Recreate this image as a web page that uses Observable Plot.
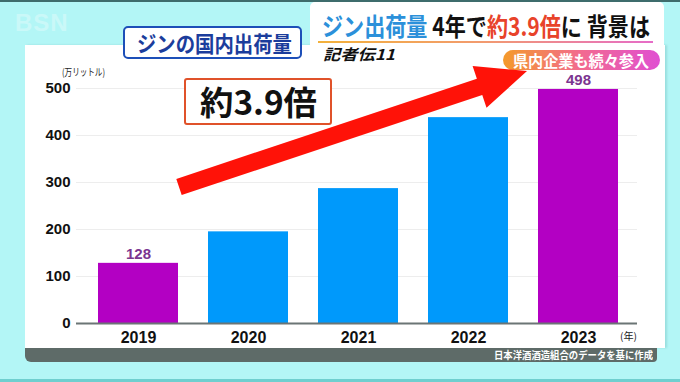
<!DOCTYPE html>
<html>
<head>
<meta charset="utf-8">
<script src="https://cdn.jsdelivr.net/npm/d3@7"></script>
<script src="https://cdn.jsdelivr.net/npm/@observablehq/plot@0.6"></script>
<style>
  html, body { margin: 0; padding: 0; }
  #stage { position: relative; width: 680px; height: 382px; overflow: hidden; background: #b3f6f6;
           font-family: "Noto Sans CJK JP", "Noto Sans", sans-serif; }
  .abs { position: absolute; }
  .fit { display: inline-block; white-space: nowrap; transform-origin: left center; }
  #panel { left: 25px; top: 45px; width: 640px; height: 303px; background: #fff; box-shadow: 2px 0 2px rgba(0,90,90,0.15); }
  #caption { left: 25px; top: 348px; width: 632px; height: 14px; background: #5e6b68; border-radius: 0 0 4px 6px; }
  #captext { right: 4px; top: 0px; color: #fff; font-size: 10px; line-height: 14px; font-weight: 700; transform-origin: right center; }
  #plotwrap { left: 0; top: 0; }
  #plotwrap svg text { font-family: "Liberation Sans", Arial, sans-serif; }
  #plotwrap g[aria-label="x-axis tick label"] { font-size: 16px; }
</style>
</head>
<body>
<div id="stage">
  <div class="abs" style="left:0;top:0;width:680px;height:2px;background:#3e6c6c"></div>
  <div class="abs" style="left:0;top:379px;width:680px;height:3px;background:#6fcfcf"></div>
  <div class="abs" style="left:15px;top:9px;font-family:'Liberation Sans',Arial,sans-serif;font-weight:700;font-size:24px;color:#fff;opacity:0.3;letter-spacing:1px">BSN</div>

  <div class="abs" id="panel">
    <div class="abs" id="plotwrap"></div>
    <div class="abs" style="left:37px;top:22px;font-size:10px;line-height:10px;color:#222"><span class="fit" data-w="43">(万リットル)</span></div>
    <div class="abs" style="left:595px;top:286px;font-size:10px;line-height:10px;color:#222"><span class="fit" data-w="17">(年)</span></div>
  </div>
  <div class="abs" id="caption"><div class="abs" id="captext"><span class="fit" data-w="159" style="transform-origin:right center">日本洋酒酒造組合のデータを基に作成</span></div></div>

  <div class="abs" style="left:310px;top:2px;width:354px;height:44px;background:#fff;border-radius:5px 5px 0 0"></div>
  <div class="abs" style="left:322px;top:13px;font-size:25px;line-height:25px;font-weight:700;color:#111">
    <span class="fit" data-w="328"><span style="color:#2b90da">ジン出荷量</span> 4年で<span style="color:#e8432a">約3.9倍</span>に 背景は</span>
  </div>
  <div class="abs" style="left:318px;top:41px;width:335px;height:2px;background:linear-gradient(90deg,#f3b13a,#f29a70,#e66cc8)"></div>
  <div class="abs" style="left:323px;top:45px;font-size:15px;line-height:17px;font-weight:700;font-style:italic;color:#111;text-decoration:underline">
    <span class="fit" data-w="72">記者伝11</span>
  </div>
  <div class="abs" style="left:503px;top:50px;width:157px;height:20px;border-radius:10px;background:linear-gradient(90deg,#f49a2a,#f26a90,#e04fd2)">
    <div class="abs" style="left:10px;top:1px;font-size:16px;line-height:18px;font-weight:700;color:#fff"><span class="fit" data-w="136">県内企業も続々参入</span></div>
  </div>

  <div class="abs" style="left:123px;top:26px;width:175px;height:29px;border:2px solid #1d4fb8;border-radius:5px;background:#fff">
    <div class="abs" style="left:12px;top:3px;font-size:22px;line-height:23px;font-weight:700;color:#1b3d9c"><span class="fit" data-w="155">ジンの国内出荷量</span></div>
  </div>

  <svg class="abs" style="left:0;top:0" width="680" height="382" id="arrow"></svg>

  <div class="abs" style="left:184px;top:78px;width:144px;height:43px;border:2px solid #e0522a;border-radius:3px;background:#fff">
    <div class="abs" style="left:14px;top:4px;font-size:33px;line-height:35px;font-weight:700;color:#111"><span class="fit" data-w="117">約3.9倍</span></div>
  </div>
</div>
<script>
const years = ["2019", "2020", "2021", "2022", "2023"];
const shipments = [128, 195, 287, 438, 498];
const barColors = ["#b300c3", "#0099fb", "#0099fb", "#0099fb", "#b300c3"];
const labeledYears = ["2019", "2023"];
const yTicks = [0, 100, 200, 300, 400, 500];

const data = years.map((year, i) => ({year, value: shipments[i], color: barColors[i]}));

const chart = Plot.plot({
  width: 640,
  height: 301,
  marginTop: 43,
  marginBottom: 23,
  marginLeft: 58,
  marginRight: 28,
  style: {background: "transparent", fontSize: "15px", fontWeight: "bold", color: "#111"},
  x: {domain: years, range: [43.3, 623], padding: 0.27, label: null, tickSize: 0, tickPadding: 8},
  y: {domain: [0, 500], ticks: yTicks, label: null, tickSize: 0, tickPadding: 13},
  color: {type: "identity"},
  marks: [
    Plot.ruleY(yTicks.filter(t => t > 0), {stroke: "#ededed", insetLeft: -7}),
    Plot.barY(data, {x: "year", y: "value", fill: "color"}),
    Plot.ruleY([0], {stroke: "#6b7575", strokeWidth: 2, insetLeft: -7}),
    Plot.text(data.filter(d => labeledYears.includes(d.year)), {
      x: "year", y: "value", text: d => String(d.value), dy: -9,
      fill: "#7b3590", fontSize: 15, fontWeight: "bold"
    })
  ]
});
document.getElementById("plotwrap").appendChild(chart);

// decorative arrow
(function () {
  const svg = document.getElementById("arrow");
  const tail = [179, 187], tip = [527, 71];
  const dx = tip[0] - tail[0], dy = tip[1] - tail[1];
  const L = Math.hypot(dx, dy), ang = Math.atan2(dy, dx) * 180 / Math.PI;
  const hw = 8.5, hl = 50, hh = 22;
  const pts = [[0, -hw], [L - hl, -hw], [L - hl, -hh], [L, 0], [L - hl, hh], [L - hl, hw], [0, hw]];
  const poly = document.createElementNS("http://www.w3.org/2000/svg", "polygon");
  poly.setAttribute("points", pts.map(p => p.join(",")).join(" "));
  poly.setAttribute("fill", "#ff1208");
  poly.setAttribute("transform", `translate(${tail[0]},${tail[1]}) rotate(${ang})`);
  svg.appendChild(poly);
})();

// fit text widths
document.querySelectorAll(".fit").forEach(el => {
  const w = el.getBoundingClientRect().width;
  const target = +el.dataset.w;
  if (w > 0) el.style.transform = `scaleX(${target / w})`;
});
</script>
</body>
</html>
